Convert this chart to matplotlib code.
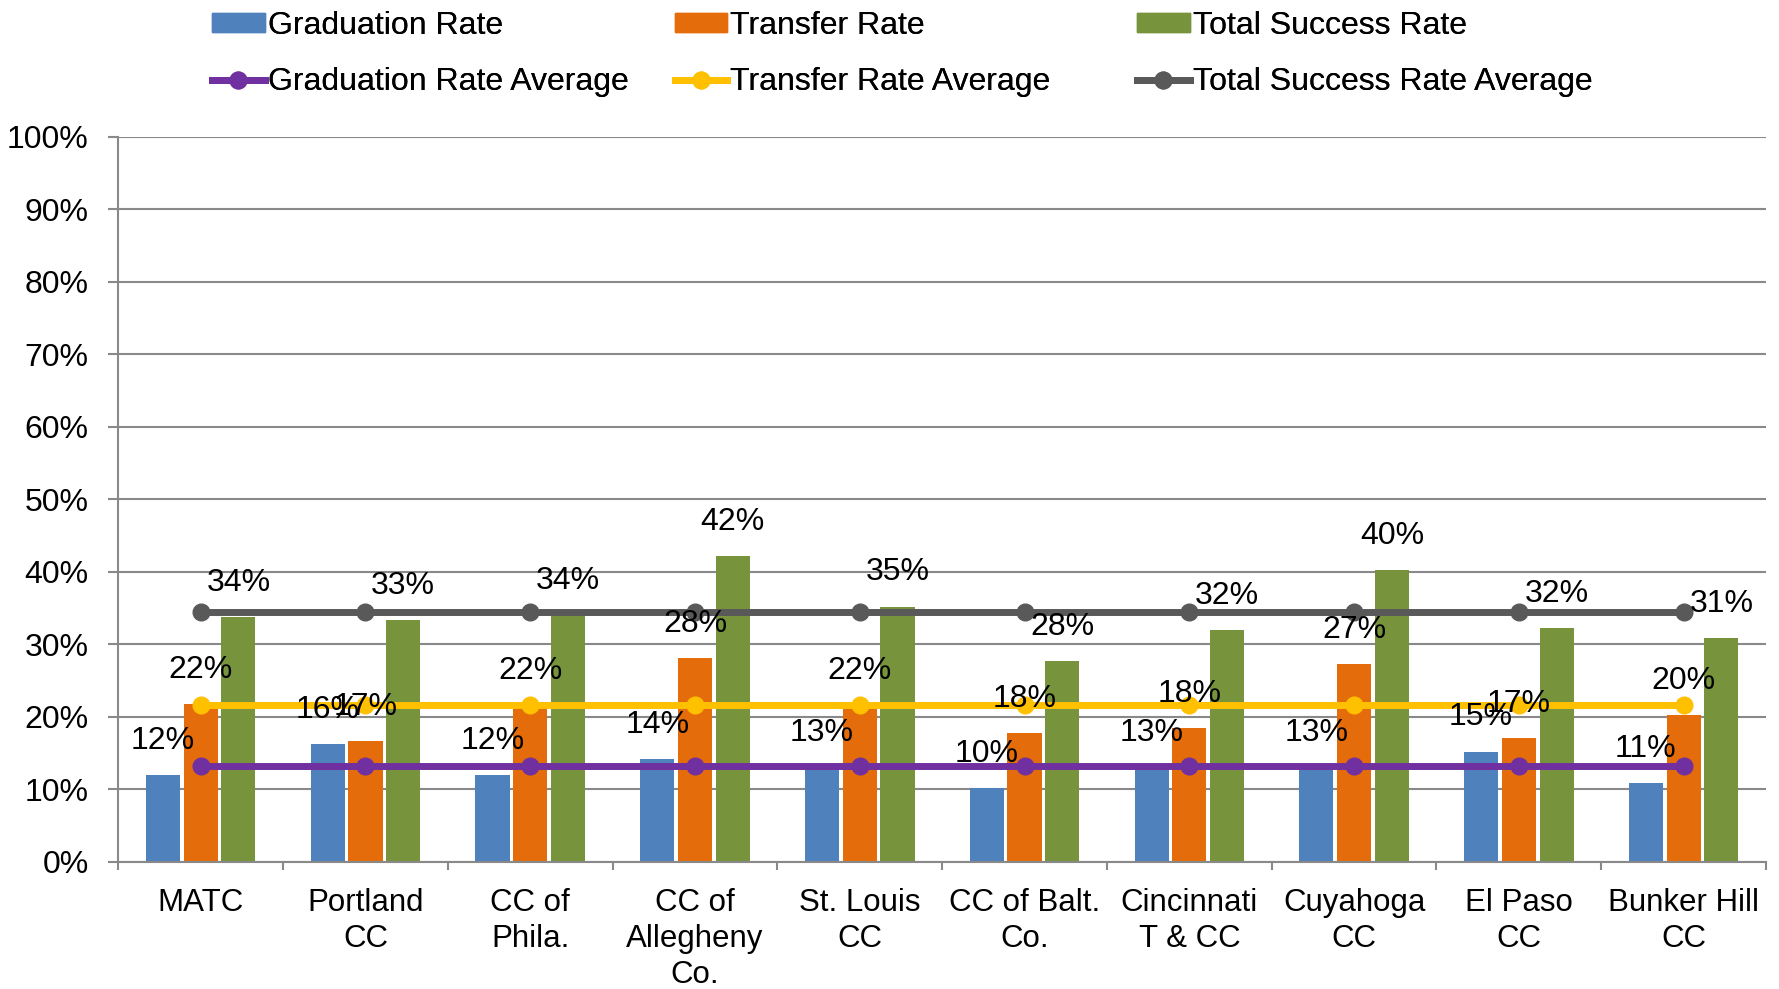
import matplotlib
matplotlib.use("Agg")
import matplotlib.pyplot as plt
import numpy as np
from matplotlib.lines import Line2D
from matplotlib.patches import Patch

plt.rcParams["font.family"] = ["Liberation Sans", "DejaVu Sans"]

# ── Dados ──────────────────────────────────────────────
faculdades = ["MATC", "Portland\nCC", "CC of\nPhila.", "CC of\nAllegheny\nCo.",
              "St. Louis\nCC", "CC of Balt.\nCo.", "Cincinnati\nT & CC",
              "Cuyahoga\nCC", "El Paso\nCC", "Bunker Hill\nCC"]
taxa_graduacao = [0.119, 0.162, 0.119, 0.141, 0.130, 0.102, 0.131, 0.130, 0.152, 0.108]
taxa_transferencia = [0.217, 0.167, 0.216, 0.281, 0.216, 0.178, 0.184, 0.273, 0.170, 0.203]
taxa_sucesso = [0.337, 0.333, 0.340, 0.422, 0.352, 0.277, 0.319, 0.402, 0.322, 0.309]
media_graduacao = 0.132
media_transferencia = 0.216
media_sucesso = 0.345

y_ticks = [i / 10 for i in range(11)]

# ── Estilo ─────────────────────────────────────────────
AZUL, LARANJA, VERDE = "#4F81BD", "#E46C0A", "#77933C"
ROXO, AMARELO, CINZA = "#7030A0", "#FFC000", "#595959"
EIXO = "#898989"
FS = 23

fig = plt.figure(figsize=(17.79, 9.89), dpi=100)
ax = fig.add_axes([0.0665, 0.1287, 0.9262, 0.7331])

x = np.arange(len(faculdades))
w = 0.207
off = 0.229

series = [(taxa_graduacao, AZUL, -off), (taxa_transferencia, LARANJA, 0), (taxa_sucesso, VERDE, off)]
for vals, cor, dx in series:
    ax.bar(x + dx, vals, w, color=cor, zorder=2)

medias = [(media_graduacao, ROXO), (media_transferencia, AMARELO), (media_sucesso, CINZA)]
for m, cor in medias:
    ax.plot(x, [m] * len(x), color=cor, lw=5, marker="o", ms=12, zorder=3)

for vals, cor, dx in series:
    for xi, v in zip(x, vals):
        ax.annotate(f"{round(v * 100):.0f}%", (xi + dx, v), xytext=(0, 24.5),
                    textcoords="offset points", ha="center", va="center",
                    fontsize=FS, zorder=4)

ax.set_xlim(-0.5, len(x) - 0.5)
ax.set_ylim(0, 1.0)
ax.set_yticks(y_ticks)
ax.set_yticklabels([f"{int(t * 100)}%" for t in y_ticks], fontsize=FS)
ax.yaxis.grid(True, color=EIXO, lw=1.5, zorder=0)
ax.set_xticks(x)
ax.set_xticklabels(faculdades, fontsize=22.5, linespacing=1.25)
ax.set_xticks(np.arange(-0.5, len(x)), minor=True)
ax.tick_params(axis="x", which="major", length=0, pad=19)
ax.tick_params(axis="x", which="minor", length=6, width=1.5, color=EIXO)
ax.tick_params(axis="y", length=7.2, width=1.5, color=EIXO, pad=14)

for lado in ["top", "right"]:
    ax.spines[lado].set_visible(False)
for lado in ["left", "bottom"]:
    ax.spines[lado].set_color(EIXO)
    ax.spines[lado].set_linewidth(1.5)

# ── Legenda (três colunas) ─────────────────────────────
colunas = [
    (Patch(color=AZUL), "Graduation Rate", Line2D([], [], color=ROXO, lw=5, marker="o", ms=12), "Graduation Rate Average"),
    (Patch(color=LARANJA), "Transfer Rate", Line2D([], [], color=AMARELO, lw=5, marker="o", ms=12), "Transfer Rate Average"),
    (Patch(color=VERDE), "Total Success Rate", Line2D([], [], color=CINZA, lw=5, marker="o", ms=12), "Total Success Rate Average"),
]
pos_x = [0.112, 0.372, 0.632]
for (h1, l1, h2, l2), px in zip(colunas, pos_x):
    leg = fig.legend([h1, h2], [l1, l2], loc="upper left", bbox_to_anchor=(px, 1.002),
                     frameon=False, fontsize=FS, handlelength=1.65, handleheight=0.55,
                     handletextpad=0.1, labelspacing=0.82, borderaxespad=0)
    fig.add_artist(leg)

fig.savefig("out.png", dpi=100)
